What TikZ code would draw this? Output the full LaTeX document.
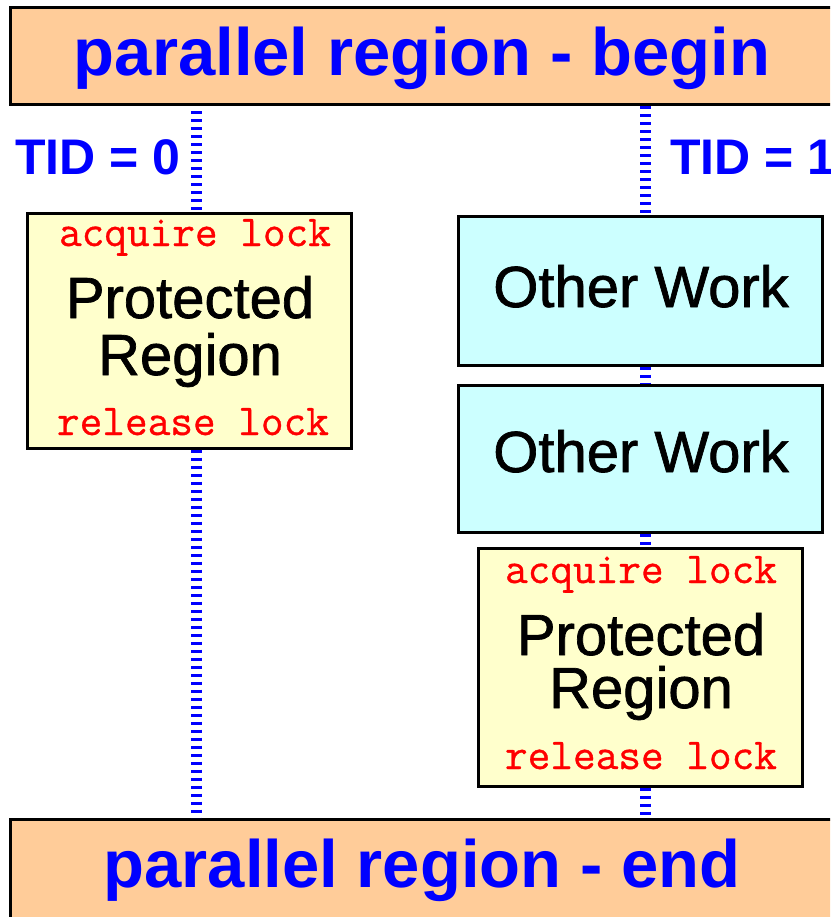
\documentclass[tikz,border=0pt]{standalone}
\usepackage{fontspec}
\setmainfont{Liberation Sans}
\newfontfamily\heavysans[FakeBold=1.2]{Liberation Sans}
\newfontfamily\heavymono[FakeBold=0.8]{Latin Modern Mono}
\definecolor{peach}{HTML}{FFCC99}
\definecolor{paleyellow}{HTML}{FFFFCC}
\definecolor{palecyan}{HTML}{CCFFFF}
\begin{document}
\begin{tikzpicture}[x=1pt,y=-1pt,
  banner/.style={draw=black, line width=3pt, fill=peach, rectangle, inner sep=0pt},
  bannertext/.style={text=blue, font=\fontsize{67}{67}\selectfont\bfseries, inner sep=0pt, anchor=base},
  tidtext/.style={text=blue, font=\fontsize{50}{50}\selectfont\bfseries, inner sep=0pt, anchor=base west},
  protbox/.style={draw=black, line width=3pt, fill=paleyellow, rectangle, inner sep=0pt, minimum width=324pt},
  workbox/.style={draw=black, line width=3pt, fill=palecyan, rectangle, inner sep=0pt, minimum width=364pt, minimum height=148pt},
  sanstext/.style={text=black, font=\fontsize{58}{58}\selectfont\heavysans, inner sep=0pt, anchor=base},
  codetext/.style={text=red, font=\fontsize{44}{44}\selectfont\heavymono, inner sep=0pt, anchor=base},
  thread/.style={draw=blue, line width=11pt, dash pattern=on 3pt off 5pt}
]
\useasboundingbox (0,0) rectangle (830,917);
\begin{scope}
\clip (0,0) rectangle (830,917);
% banners
\node[banner, minimum width=826pt, minimum height=97pt] (begin) at (423,56.5) {};
\node[bannertext] (begintext) at (422,76) {parallel region - begin};
\node[banner, minimum width=826pt, minimum height=106pt] (end) at (423,872) {};
\node[bannertext] (endtext) at (422,887) {parallel region - end};
% thread labels
\node[tidtext] (tid0) at (15,175) {TID = 0};
\node[tidtext] (tid1) at (670,175) {TID = 1};
% left thread
\node[protbox, minimum height=234pt] (p0) at (189,331) {};
\node[codetext] (p0a) at (195,246) {acquire lock};
\node[sanstext] (p0b) at (190,318) {Protected};
\node[sanstext] (p0c) at (190,375) {Region};
\node[codetext] (p0d) at (193,435) {release lock};
% right thread
\node[workbox] (w1) at (640,291) {};
\node[sanstext] (w1t) at (641,307) {Other Work};
\node[workbox, minimum height=147pt] (w2) at (640,458.5) {};
\node[sanstext] (w2t) at (641,472) {Other Work};
\node[protbox, minimum height=238pt] (p1) at (640,667) {};
\node[codetext] (p1a) at (641,583) {acquire lock};
\node[sanstext] (p1b) at (641,655) {Protected};
\node[sanstext] (p1c) at (641,708) {Region};
\node[codetext] (p1d) at (641,769) {release lock};
% thread lines
\coordinate (xl) at (196,0);
\coordinate (xr) at (645,0);
\draw[thread] (xl |- begin.south) ++(0,5) -- (xl |- p0.north);
\draw[thread] (xl |- p0.south) -- (xl |- end.north);
\draw[thread] (xr |- begin.south) -- (xr |- w1.north);
\draw[thread] (xr |- w1.south) -- (xr |- w2.north);
\draw[thread] (xr |- w2.south) -- (xr |- p1.north);
\draw[thread] (xr |- p1.south) -- (xr |- end.north);
\end{scope}
\end{tikzpicture}
\end{document}
